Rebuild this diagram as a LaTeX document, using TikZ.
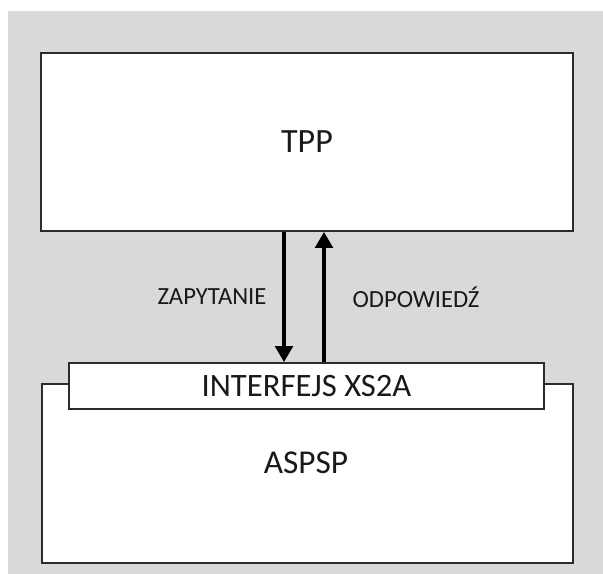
\documentclass[tikz,border=0pt]{standalone}
\usepackage{fontspec}
\setmainfont{Carlito}
\usetikzlibrary{arrows.meta}
\definecolor{bggray}{HTML}{D9D9D9}
\definecolor{edge}{HTML}{2B2B2B}
\begin{document}
\begin{tikzpicture}[x=0.75pt,y=-0.75pt,
  box/.style={draw=edge,line width=1.3pt,fill=white,inner sep=0pt},
  flow/.style={line width=3pt,-{Triangle[length=12pt,width=13pt]}},
  every node/.style={text=black!90}]
\useasboundingbox (0,0) rectangle (603,574);
\fill[bggray] (8,11) rectangle (603,574);
\node[box,minimum width=399pt,minimum height=133.5pt,font=\fontsize{25.5}{30}\selectfont] (tpp) at (307,142) {TPP};
\node[box,minimum width=398.25pt,minimum height=134.25pt,anchor=north west] (aspsp) at (41,383) {};
\node[font=\fontsize{25}{30}\selectfont] at (306,463) (aspsplbl) {ASPSP};
\node[box,minimum width=356.25pt,minimum height=34.5pt,font=\fontsize{24.5}{28}\selectfont] (xs2a) at (306.5,386) {INTERFEJS XS2A};
\draw[flow] (tpp.south -| 284,0) -- (xs2a.north -| 284,0);
\draw[flow] (xs2a.north -| 324,0) -- (tpp.south -| 324,0);
\node[font=\fontsize{18.5}{22}\selectfont] (req) at (212,297) {ZAPYTANIE};
\node[font=\fontsize{18.5}{22}\selectfont] (resp) at (416,297) {ODPOWIEDŹ};
\end{tikzpicture}
\end{document}
